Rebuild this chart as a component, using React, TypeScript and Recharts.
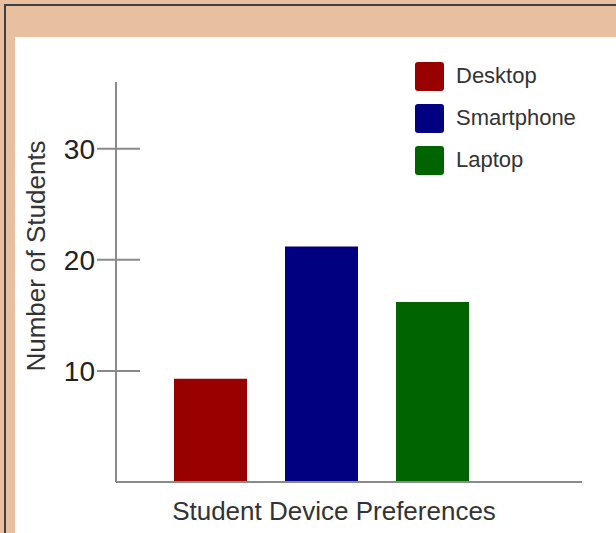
import React from 'react';
import { BarChart, Bar, XAxis, YAxis, Legend } from 'recharts';

const devices = ['Desktop', 'Smartphone', 'Laptop'];
const studentCounts = [9.3, 21.2, 16.2];
const deviceColors = ['#990000', '#000080', '#006400'];
const yTicks = [10, 20, 30];

const category = 'Student Device Preferences';

const row: Record<string, any> = { name: category };
devices.forEach((d, i) => {
  row[d] = studentCounts[i];
});
const chartData = [row];

const FONT = '"Liberation Sans", Arial, Helvetica, sans-serif';
const AXIS_GRAY = '#8a8a8a';
const TICK_GAP = 21;

function YTick(props: any) {
  const { x, y, payload } = props;
  const axisX = x + TICK_GAP;
  return (
    <g>
      <line x1={axisX - 19} x2={axisX + 24} y1={y} y2={y} stroke={AXIS_GRAY} strokeWidth={2} />
      <text x={x} y={y + 10} textAnchor="end" fontSize={28} fill="#222" fontFamily={FONT}>
        {payload.value}
      </text>
    </g>
  );
}

function DeviceLegend(props: any) {
  const items = [...(props.payload || [])].sort(
    (a: any, b: any) => devices.indexOf(a.value) - devices.indexOf(b.value)
  );
  return (
    <div style={{ fontFamily: FONT }}>
      {items.map((item: any) => (
        <div key={item.value} style={{ display: 'flex', alignItems: 'center', height: 42 }}>
          <div
            style={{
              width: 29,
              height: 29,
              borderRadius: 3,
              background: item.color,
              marginRight: 12,
            }}
          />
          <span style={{ fontSize: 22, color: '#333' }}>{item.value}</span>
        </div>
      ))}
    </div>
  );
}

export default function App() {
  return (
    <div
      style={{
        position: 'absolute',
        left: 0,
        top: 0,
        width: 616,
        height: 533,
        background: '#E8BF9F',
        overflow: 'hidden',
      }}
    >
      <div
        style={{
          position: 'absolute',
          left: 4,
          top: 4,
          right: -10,
          bottom: -10,
          borderLeft: '2px solid #3b4045',
          borderTop: '2px solid #3b4045',
        }}
      />
      <div
        style={{
          position: 'absolute',
          left: 15,
          top: 37,
          width: 601,
          height: 496,
          background: '#fff',
        }}
      >
        <BarChart
          width={601}
          height={496}
          data={chartData}
          margin={{ top: 45, right: 34, bottom: 0, left: 0 }}
          barGap={38}
        >
          <XAxis
            dataKey="name"
            height={51}
            tick={false}
            tickLine={false}
            axisLine={{ stroke: AXIS_GRAY, strokeWidth: 2 }}
            padding={{ left: 0, right: 55 }}
            label={{
              content: ({ viewBox }: any) => (
                <text
                  x={viewBox.x + viewBox.width / 2 - 15}
                  y={viewBox.y + 38}
                  textAnchor="middle"
                  fontSize={26}
                  fill="#333"
                  fontFamily={FONT}
                >
                  {category}
                </text>
              ),
            }}
          />
          <YAxis
            width={101}
            domain={[0, 36]}
            ticks={yTicks}
            tickLine={false}
            tickSize={0}
            tickMargin={TICK_GAP}
            tick={<YTick />}
            axisLine={{ stroke: AXIS_GRAY, strokeWidth: 2 }}
            label={{
              content: ({ viewBox }: any) => {
                const cx = 21;
                const cy = viewBox.y + viewBox.height / 2 - 26;
                return (
                  <text
                    x={cx}
                    y={cy}
                    transform={`rotate(-90, ${cx}, ${cy})`}
                    textAnchor="middle"
                    dominantBaseline="central"
                    fontSize={26}
                    fill="#333"
                    fontFamily={FONT}
                  >
                    Number of Students
                  </text>
                );
              },
            }}
          />
          <Legend
            layout="vertical"
            verticalAlign="middle"
            align="center"
            content={<DeviceLegend />}
            wrapperStyle={{ top: 18, left: 400, width: 180 }}
          />
          {devices.map((d, i) => (
            <Bar key={d} dataKey={d} fill={deviceColors[i]} barSize={73} isAnimationActive={false} />
          ))}
        </BarChart>
      </div>
    </div>
  );
}
